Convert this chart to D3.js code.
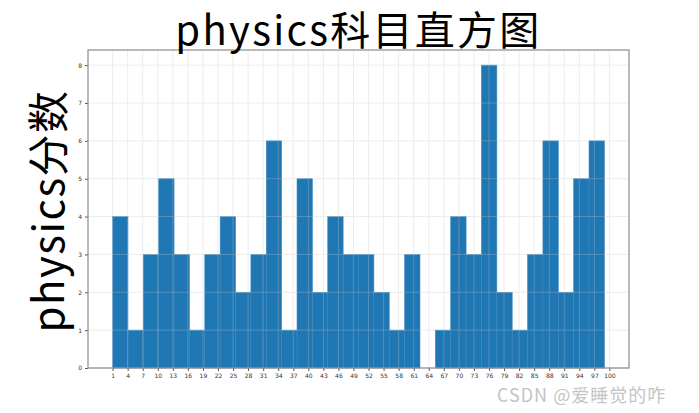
<!DOCTYPE html>
<html>
<head>
<meta charset="utf-8">
<script src="https://cdn.jsdelivr.net/npm/d3@7"></script>
<style>
  body { margin: 0; background: #fff; }
  svg { display: block; }
</style>
</head>
<body>
<svg id="chart" width="699" height="413"></svg>
<script>
// histogram of physics scores: 32 bins from 1 to 99
const scoreMin = 1;
const scoreMax = 99;
const binCounts = [4, 1, 3, 5, 3, 1, 3, 4, 2, 3, 6, 1, 5, 2, 4, 3,
                   3, 2, 1, 3, 0, 1, 4, 3, 8, 2, 1, 3, 6, 2, 5, 6];
const xTicks = [1, 4, 7, 10, 13, 16, 19, 22, 25, 28, 31, 34, 37, 40, 43, 46, 49,
                52, 55, 58, 61, 64, 67, 70, 73, 76, 79, 82, 85, 88, 91, 94, 97, 100];
const yTicks = [0, 1, 2, 3, 4, 5, 6, 7, 8];

const binWidth = (scoreMax - scoreMin) / binCounts.length;
const bins = binCounts.map((c, i) => ({
    x0: scoreMin + i * binWidth,
    x1: scoreMin + (i + 1) * binWidth,
    count: c
}));

var svg = d3.select("#chart"),
    margin = {top: 50, right: 70, bottom: 45, left: 88},
    width = +svg.attr("width"),
    height = +svg.attr("height");

var pad = (scoreMax - scoreMin) * 0.05;
var x = d3.scaleLinear()
    .domain([scoreMin - pad, scoreMax + pad])
    .range([margin.left, width - margin.right]);

var y = d3.scaleLinear()
    .domain([0, d3.max(binCounts) * 1.05])
    .range([height - margin.bottom, margin.top]);

// bars
svg.append("g").selectAll("rect")
    .data(bins)
  .enter().append("rect")
    .attr("x", d => x(d.x0))
    .attr("y", d => y(d.count))
    .attr("width", d => x(d.x1) - x(d.x0))
    .attr("height", d => y(0) - y(d.count))
    .style("fill", "#1f77b4")
    .style("stroke", "#3a87c0")
    .style("stroke-width", 0.6);

// grid on top, faint
var grid = svg.append("g").style("opacity", 0.4);
grid.selectAll(".vgrid")
    .data(xTicks)
  .enter().append("line")
    .attr("x1", d => x(d)).attr("x2", d => x(d))
    .attr("y1", margin.top).attr("y2", height - margin.bottom)
    .style("stroke", "#c8c8c8")
    .attr("stroke-width", 0.8);
grid.selectAll(".hgrid")
    .data(yTicks)
  .enter().append("line")
    .attr("x1", margin.left).attr("x2", width - margin.right)
    .attr("y1", d => y(d)).attr("y2", d => y(d))
    .style("stroke", "#c8c8c8")
    .attr("stroke-width", 0.8);

// axes
var xAxis = svg.append("g")
    .attr("transform", "translate(0," + (height - margin.bottom) + ")")
    .call(d3.axisBottom(x).tickValues(xTicks).tickSize(3).tickPadding(3));

var yAxis = svg.append("g")
    .attr("transform", "translate(" + margin.left + ",0)")
    .call(d3.axisLeft(y).tickValues(yTicks).tickSize(3).tickPadding(3));

[xAxis, yAxis].forEach(a => {
    a.select(".domain").remove();
    a.selectAll("line").style("stroke", "#555");
    a.selectAll("text")
        .style("font-family", "DejaVu Sans")
        .style("font-size", "6px")
        .style("fill", "#333");
});

// frame
svg.append("rect")
    .attr("x", margin.left)
    .attr("y", margin.top)
    .attr("width", width - margin.right - margin.left)
    .attr("height", height - margin.bottom - margin.top)
    .style("fill", "none")
    .style("stroke", "#8c8c8c")
    .attr("stroke-width", 1.2);

// title
svg.append("text")
    .attr("x", (margin.left + width - margin.right) / 2)
    .attr("y", 45)
    .attr("text-anchor", "middle")
    .style("font-family", "Noto Sans CJK SC")
    .style("font-size", "40px")
    .style("letter-spacing", "2.3px")
    .text("physics科目直方图");

// y label
svg.append("text")
    .attr("transform", "translate(64," + ((margin.top + height - margin.bottom) / 2 + 2) + ") rotate(-90)")
    .attr("text-anchor", "middle")
    .style("font-family", "Noto Sans CJK SC")
    .style("font-size", "42px")
    .style("letter-spacing", "1.5px")
    .text("physics分数");

// watermark
svg.append("text")
    .attr("x", 497)
    .attr("y", 402)
    .style("font-family", "Noto Sans CJK SC")
    .style("font-size", "18px")
    .style("letter-spacing", "1px")
    .style("fill", "#c4c4c4")
    .text("CSDN @爱睡觉的咋");
</script>
</body>
</html>
